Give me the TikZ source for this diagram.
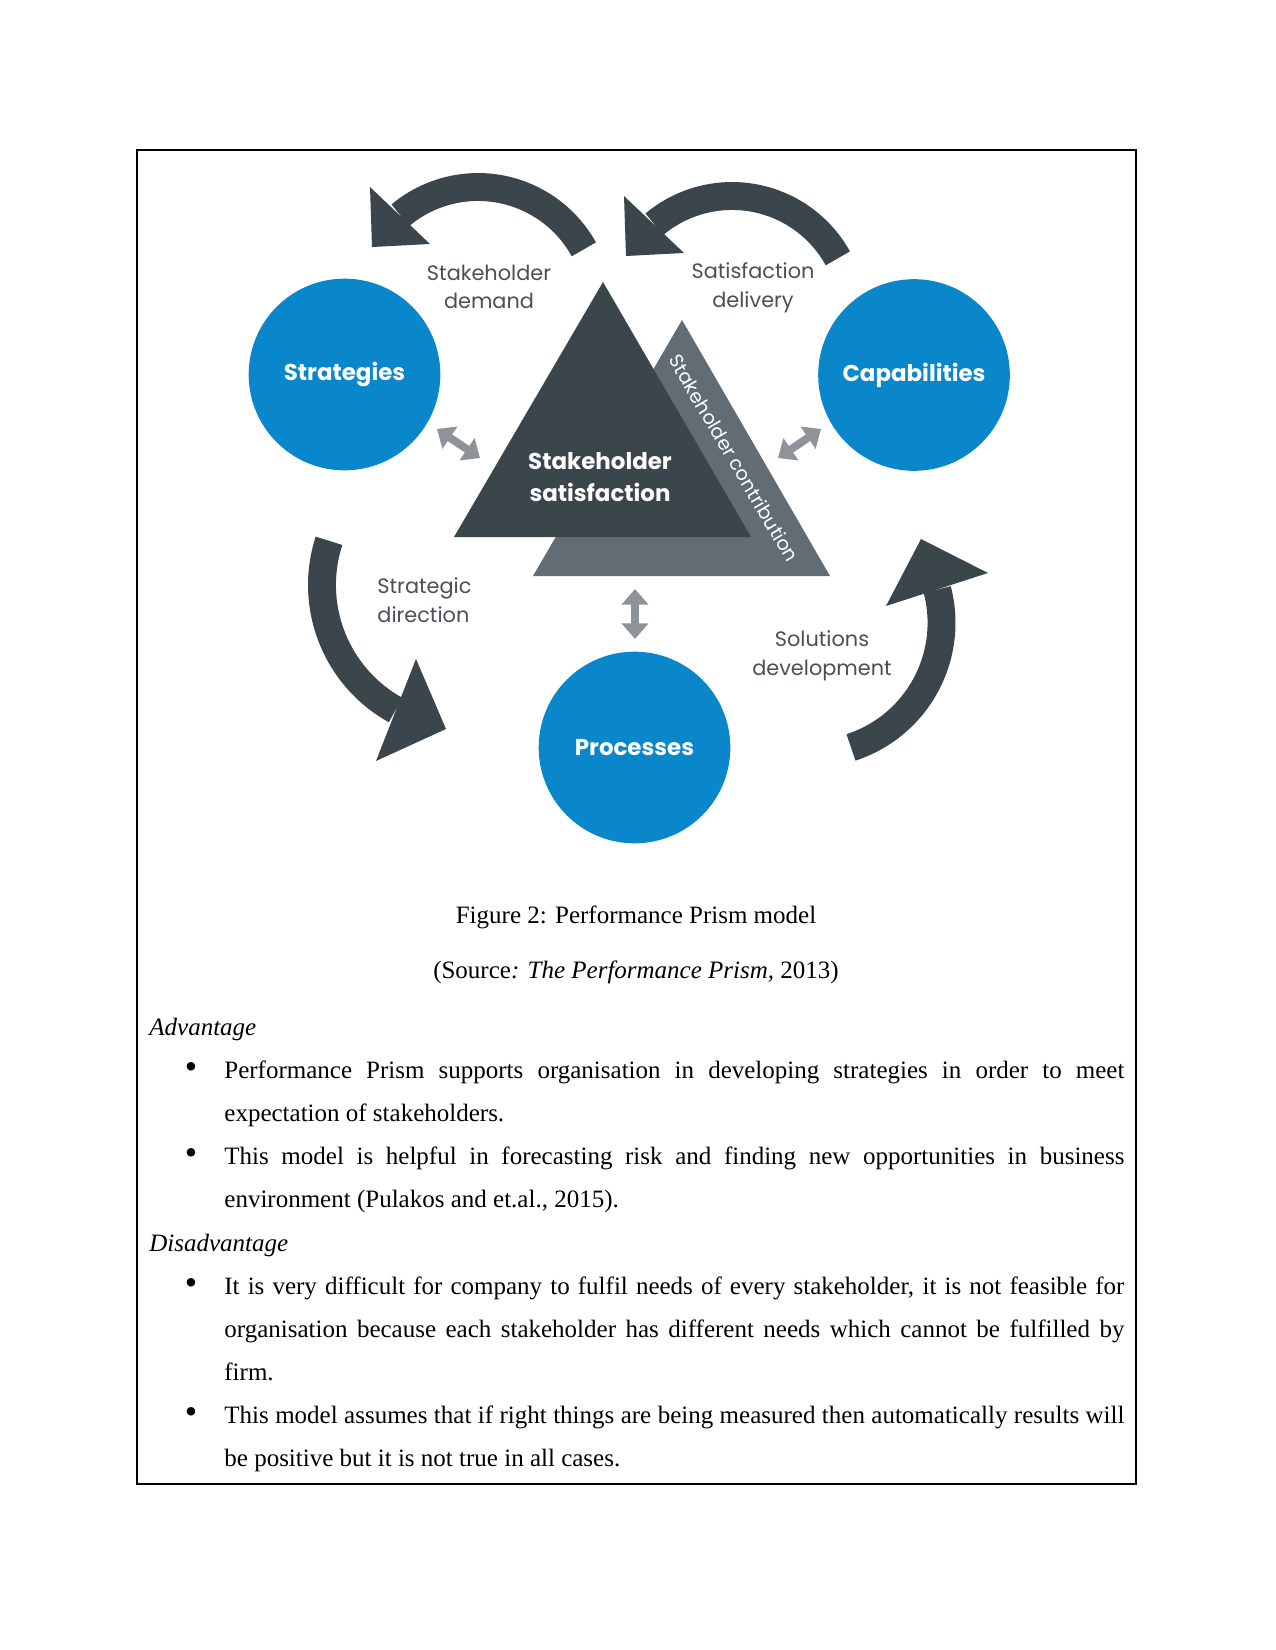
\documentclass[tikz,border=0pt]{standalone}
\usepackage{fontspec}
\setmainfont{Liberation Serif}
\newfontfamily\prismfont{Poppins}
\usetikzlibrary{arrows.meta}
\definecolor{prismblue}{HTML}{0A87CA}
\definecolor{prismdark}{HTML}{3A454C}
\definecolor{prismlight}{HTML}{616C74}
\definecolor{prismgrey}{HTML}{8D9398}
\definecolor{prismtext}{HTML}{4A5055}

\tikzset{
  pcircle/.style={circle,fill=prismblue,minimum size=92pt,inner sep=0pt,text=white,
    font=\prismfont\bfseries\fontsize{11}{13}\selectfont},
  plabel/.style={align=center,text=prismtext,inner sep=0pt,
    font=\prismfont\fontsize{10}{13.7}\selectfont},
  band/.style={draw=prismdark,line width=13.4pt,line cap=butt},
  dblarrow/.style={draw=prismgrey,line width=3.8pt,
    {Triangle[width=12.5pt,length=7.5pt]}-{Triangle[width=12.5pt,length=7.5pt]}},
  bodytext/.style={font=\fontsize{12}{14}\selectfont,inner sep=0pt}
}

\begin{document}
\begin{tikzpicture}[x=0.48pt,y=-0.48pt]
  \useasboundingbox (0,0) rectangle (1275,1650);
  \fill[white] (0,0) rectangle (1275,1650);
  \draw[line width=0.6pt] (137,150) rectangle (1136,1484);

  % the prism
  \fill[prismlight] (682,320) -- (533,576) -- (830,576) -- cycle;
  \fill[prismdark] (603,282) -- (454,537) -- (751,537) -- cycle;
  \node[text=white,font=\prismfont\fontsize{9.2}{11}\selectfont,rotate=-59.6]
    (contrib) at (734,458) {Stakeholder contribution};
  \node[plabel,text=white,font=\prismfont\bfseries\fontsize{11}{15.6}\selectfont]
    (sat) at (600,477) {Stakeholder\\satisfaction};

  % the three facets
  \node[pcircle] (strat) at (344.5,374.5) {Strategies};
  \node[pcircle] (capab) at (914,375) {Capabilities};
  \node[pcircle] (proc) at (634.5,747.5) {Processes};

  % curved flows
  \coordinate (dmdc) at (478,308);
  \coordinate (dlvc) at (732,317);
  \coordinate (dirc) at (465,585);
  \coordinate (solc) at (810.5,622.8);
  \draw[band] (dmdc) ++(-29:121) arc[start angle=-29,end angle=-130,radius=121];
  \fill[prismdark] (370,187) -- (372,247) -- (430,244) -- cycle;
  \draw[band] (dlvc) ++(-29:121) arc[start angle=-29,end angle=-130,radius=121];
  \fill[prismdark] (624,196) -- (626,256) -- (684,253) -- cycle;
  \draw[band] (dirc) ++(198:143) arc[start angle=198,end angle=119,radius=143];
  \fill[prismdark] (416,659) -- (446,729) -- (376,761) -- cycle;
  \draw[band] (solc) ++(72:131) arc[start angle=72,end angle=-14.7,radius=131];
  \fill[prismdark] (921,539) -- (988,573) -- (886,606) -- cycle;

  \node[plabel] (dmd) at (489,287) {Stakeholder\\demand};
  \node[plabel] (dlv) at (753,288) {Satisfaction\\delivery};
  \node[plabel,align=left,anchor=west] (dir) at (377,600) {Strategic\\direction};
  \node[plabel] (sol) at (822,656) {Solutions\\development};

  % two-way links
  \coordinate (sl1) at (437,429);
  \coordinate (sl2) at (480,458);
  \coordinate (cp1) at (821,429);
  \coordinate (cp2) at (778,458);
  \coordinate (pr1) at (635,589);
  \coordinate (pr2) at (635,639);
  \draw[dblarrow] (sl1) -- (sl2);
  \draw[dblarrow] (cp1) -- (cp2);
  \draw[dblarrow] (pr1) -- (pr2);

  % caption and notes
  \node[bodytext,anchor=base] (cap) at (636,923) {Figure 2: Performance Prism model};
  \node[bodytext,anchor=base] (src) at (636,978)
    {(Source\textit{: The Performance Prism,} 2013)};
  \node[bodytext,anchor=base west] (adv) at (149,1035) {\textit{Advantage}};
  \node[bodytext,anchor=base west] (dis) at (149,1251) {\textit{Disadvantage}};
  \foreach \y in {1078,1164,1294,1423}
    \node[anchor=base,inner sep=0pt,font=\fontsize{17}{17}\selectfont] (b\y) at (191,\y) {\textbullet};
  \foreach \y/\txt in {%
    1078/{\makebox[432pt][s]{Performance Prism supports organisation in developing strategies in order to meet}},
    1121/{expectation of stakeholders.},
    1164/{\makebox[432pt][s]{This model is helpful in forecasting risk and finding new opportunities in business}},
    1207/{environment (Pulakos and et.al., 2015).},
    1294/{\makebox[432pt][s]{It is very difficult for company to fulfil needs of every stakeholder, it is not feasible for}},
    1337/{\makebox[432pt][s]{organisation because each stakeholder has different needs which cannot be fulfilled by}},
    1380/{firm.},
    1423/{\makebox[432pt][s]{This model assumes that if right things are being measured then automatically results will}},
    1466/{be positive but it is not true in all cases.}}
    \node[bodytext,anchor=base west] (l\y) at (224,\y) {\txt};
\end{tikzpicture}
\end{document}
